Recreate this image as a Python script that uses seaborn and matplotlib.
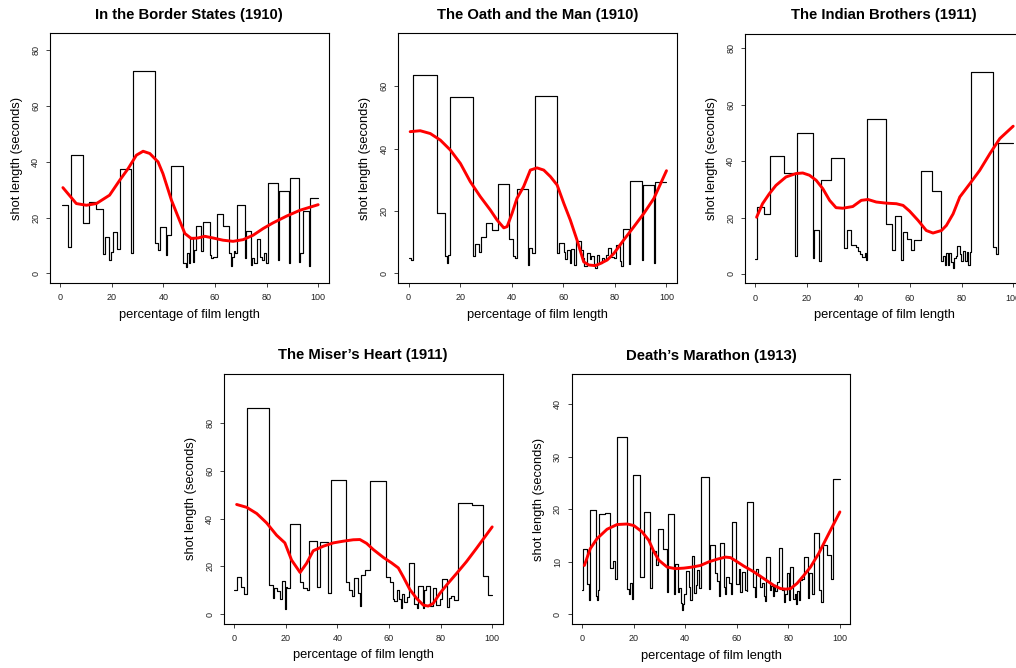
import numpy as np
import matplotlib
matplotlib.use("Agg")
import matplotlib.pyplot as plt
import seaborn as sns

# ---------------------------------------------------------------------------
# shot data: start of each shot (% of film length) and shot length (s)
# ---------------------------------------------------------------------------

border_x = [0.5, 3.0, 4.0, 8.9, 11.0, 14.0, 16.6, 17.3, 18.9, 19.5, 20.4, 22.1, 23.0,
            27.3, 28.2, 36.6, 37.9, 38.8, 40.9, 41.4, 43.1, 47.6, 48.6, 49.1, 49.9,
            50.2, 51.5, 51.9, 52.8, 54.7, 55.4, 58.0, 58.6, 59.3, 60.8, 63.1, 65.3,
            66.1, 66.5, 67.3, 67.8, 68.6, 71.6, 72.2, 74.0, 74.5, 75.2, 76.1, 77.4,
            78.4, 78.9, 79.7, 80.6, 84.5, 84.8, 88.5, 89.0, 92.6, 93.1, 94.2, 96.6, 96.9]
border_y = [24.5, 9.5, 42.4, 17.9, 25.4, 23.0, 6.8, 12.9, 5.0, 7.7, 15.0, 8.6, 37.3,
            7.5, 72.3, 11.0, 8.3, 16.5, 6.5, 13.7, 38.4, 3.6, 2.4, 7.2, 3.6,
            13.0, 4.2, 8.4, 17.0, 8.2, 18.4, 6.5, 5.7, 5.9, 21.4, 17.0, 7.2,
            2.7, 6.0, 8.0, 7.2, 24.6, 5.7, 15.1, 3.2, 5.4, 3.6, 12.3, 5.9,
            5.0, 7.2, 3.6, 32.4, 4.7, 29.5, 3.6, 34.3, 4.2, 7.2, 22.3, 2.5, 27.1]
border_smooth_x = [1.0, 6.2, 10.1, 14.0, 19.1, 23.0, 26.3, 29.5, 32.1, 34.7, 37.9, 39.8,
                   43.1, 45.7, 48.3, 50.8, 53.4, 56.0, 59.2, 63.1, 67.0, 70.9, 74.8,
                   78.7, 82.5, 87.7, 92.9, 100.0]
border_smooth_y = [30.7, 25.0, 24.4, 25.0, 28.0, 33.3, 37.5, 42.3, 43.7, 42.9, 39.9, 35.7,
                   26.2, 20.2, 14.3, 12.5, 12.7, 13.3, 12.7, 11.9, 11.5, 12.1, 13.7,
                   16.1, 18.1, 20.5, 22.6, 24.6]

oath_x = [0.0, 1.0, 1.6, 11.0, 14.0, 14.9, 15.3, 16.2, 24.8, 25.6, 27.2, 28.2, 30.0,
          32.3, 34.7, 38.8, 40.5, 41.4, 42.0, 46.2, 46.6, 47.9, 48.9, 57.6, 58.5,
          60.1, 60.8, 61.4, 62.5, 63.0, 64.3, 64.9, 66.8, 67.5, 68.1, 69.0, 70.2,
          70.8, 71.7, 72.3, 72.9, 74.0, 74.8, 75.6, 76.5, 77.3, 78.5, 79.5, 80.5,
          81.9, 82.5, 83.0, 85.5, 85.8, 90.5, 90.8, 95.3, 95.6]
oath_y = [4.8, 4.3, 63.5, 19.5, 5.6, 3.2, 5.9, 56.4, 5.6, 9.3, 6.9, 11.6, 16.3,
          13.9, 28.5, 10.9, 5.6, 5.1, 26.9, 2.7, 8.0, 6.4, 56.7, 6.4, 9.8,
          6.9, 4.6, 7.4, 3.2, 7.7, 2.6, 10.5, 7.4, 5.0, 2.5, 6.4, 4.5,
          5.6, 3.0, 1.8, 6.0, 3.5, 5.0, 4.2, 6.0, 8.2, 5.3, 4.8, 9.0,
          4.0, 2.5, 14.3, 3.0, 29.6, 4.2, 28.3, 3.2, 29.2]
oath_smooth_x = [0.6, 4.5, 8.4, 12.3, 16.2, 20.1, 23.9, 27.8, 31.7, 34.3, 36.9, 38.2,
                 40.1, 42.0, 44.6, 47.2, 49.8, 52.4, 55.0, 57.6, 60.2, 62.7, 65.3,
                 67.9, 69.9, 72.4, 74.4, 77.0, 79.6, 83.4, 87.3, 91.2, 95.1, 100.0]
oath_smooth_y = [45.4, 45.7, 44.8, 42.7, 39.5, 35.2, 29.4, 24.6, 20.3, 17.1, 14.6, 15.0,
                 19.2, 24.0, 27.8, 33.1, 33.8, 33.1, 31.0, 28.3, 22.4, 17.1, 10.7,
                 3.7, 2.7, 2.5, 3.2, 4.3, 6.4, 10.7, 14.9, 19.2, 24.0, 32.9]

indian_x = [0.0, 0.5, 3.2, 5.8, 11.0, 15.4, 16.1, 22.3, 22.9, 24.6, 25.3, 29.4, 34.3,
            35.5, 37.2, 38.9, 40.0, 40.7, 41.5, 42.4, 43.0, 43.4, 50.8, 53.0, 54.0,
            56.6, 57.1, 58.9, 60.5, 61.5, 64.4, 68.5, 72.2, 72.8, 73.4, 73.8, 74.7,
            75.1, 76.0, 76.7, 77.1, 78.0, 78.4, 79.3, 79.9, 80.6, 81.2, 81.9, 82.6,
            83.2, 83.8, 92.2, 93.3, 94.2]
indian_y = [5.3, 23.7, 21.2, 42.0, 35.7, 6.4, 50.0, 5.7, 15.6, 4.7, 33.2, 41.0, 9.2,
            15.6, 10.4, 9.5, 8.3, 6.9, 6.0, 7.4, 5.0, 55.1, 17.8, 8.5, 20.7,
            5.0, 15.0, 12.4, 8.5, 11.9, 36.5, 29.3, 4.7, 6.5, 3.0, 7.5, 3.0,
            7.5, 4.1, 2.0, 5.7, 6.5, 9.8, 6.9, 4.7, 8.3, 4.5, 7.9, 3.2,
            7.7, 71.7, 9.5, 7.1, 46.6]
indian_smooth_x = [0.5, 2.8, 5.4, 8.0, 11.9, 15.8, 18.4, 21.0, 23.6, 26.2, 28.8, 31.3,
                   33.9, 37.8, 41.1, 43.7, 46.9, 50.8, 54.7, 57.3, 59.8, 63.1, 66.3,
                   68.9, 72.2, 74.1, 76.7, 79.3, 83.2, 87.0, 91.0, 94.8, 100.0]
indian_smooth_y = [20.1, 24.9, 28.4, 31.4, 34.4, 35.6, 35.8, 35.0, 33.2, 30.2, 26.1, 23.5,
                   23.3, 23.9, 26.1, 26.4, 25.5, 25.1, 24.9, 24.3, 22.3, 19.0, 15.4,
                   14.5, 15.4, 17.2, 21.3, 27.3, 32.0, 36.7, 42.7, 48.0, 52.4]

miser_x = [0.0, 1.2, 2.5, 3.7, 4.8, 13.6, 14.9, 15.5, 16.7, 17.7, 18.3, 19.6, 20.0,
           20.5, 21.6, 25.5, 26.7, 28.0, 29.1, 32.2, 33.2, 36.4, 37.3, 43.2, 44.4,
           45.5, 46.3, 47.8, 48.7, 49.0, 50.6, 52.7, 58.7, 60.3, 61.4, 62.0, 63.2,
           63.8, 64.6, 65.1, 65.9, 66.8, 67.7, 69.8, 70.9, 71.4, 73.0, 73.5, 74.5,
           75.8, 77.1, 78.4, 79.7, 80.7, 82.3, 83.3, 84.2, 85.1, 86.8, 92.0, 96.5, 98.4]
miser_y = [10.3, 15.5, 11.5, 8.3, 86.6, 12.2, 6.9, 10.8, 9.8, 6.2, 14.0, 2.0, 11.2,
           10.8, 38.0, 13.6, 10.8, 10.0, 30.5, 11.2, 30.3, 8.7, 56.2, 13.6, 10.3,
           7.6, 15.1, 9.0, 3.4, 16.6, 18.7, 55.7, 15.4, 13.6, 6.4, 5.6, 10.3,
           6.3, 2.4, 8.4, 5.2, 7.3, 21.3, 4.1, 2.4, 11.7, 2.4, 10.0, 11.7,
           3.4, 10.8, 3.8, 6.2, 14.7, 3.1, 6.6, 7.6, 5.9, 46.6, 45.9, 16.2, 8.0]
miser_smooth_x = [0.9, 4.8, 8.7, 12.5, 16.4, 19.6, 22.2, 25.5, 28.0, 30.6, 34.5, 38.4,
                  42.2, 46.1, 48.7, 51.3, 53.9, 57.8, 61.0, 63.6, 65.5, 68.1, 70.7,
                  73.3, 75.2, 77.1, 79.7, 82.3, 86.2, 90.0, 93.9, 100.0]
miser_smooth_y = [46.0, 44.8, 42.2, 38.3, 33.1, 29.9, 22.7, 17.5, 21.3, 26.6, 28.5, 29.9,
                  30.6, 31.2, 31.3, 29.7, 27.1, 23.8, 21.5, 19.4, 15.7, 10.3, 6.6,
                  3.8, 3.4, 4.5, 8.7, 12.2, 17.1, 22.0, 27.6, 36.6]

death_x = [0.0, 0.5, 2.1, 2.7, 3.0, 5.3, 5.8, 6.3, 6.6, 8.8, 10.7, 12.0, 12.9, 13.7,
           17.5, 18.1, 18.8, 19.3, 19.7, 22.6, 24.2, 26.5, 27.0, 28.7, 29.5, 31.4,
           33.0, 33.5, 35.6, 36.1, 37.1, 37.6, 38.4, 38.8, 39.2, 39.7, 40.4, 41.4,
           42.0, 42.7, 43.6, 44.2, 44.6, 45.5, 46.2, 49.4, 49.8, 51.5, 52.4, 53.0,
           53.4, 55.0, 55.6, 56.0, 56.9, 57.6, 58.0, 59.9, 60.7, 61.4, 62.1, 63.1,
           63.8, 64.0, 66.4, 67.2, 67.5, 68.4, 69.2, 69.9, 70.5, 71.0, 71.4, 72.8,
           73.4, 74.0, 74.4, 75.0, 75.7, 76.3, 77.6, 78.3, 78.7, 79.3, 80.2, 80.6,
           81.9, 82.5, 83.0, 83.4, 84.2, 84.7, 85.4, 86.0, 87.7, 88.2, 89.3, 89.9,
           91.8, 92.8, 93.3, 95.1, 96.4, 97.2]
death_y = [4.7, 12.4, 5.8, 2.8, 19.8, 3.4, 2.8, 4.6, 19.1, 19.3, 8.8, 10.1, 6.8, 33.8,
           4.9, 3.8, 5.9, 3.0, 26.6, 7.2, 19.5, 5.0, 12.0, 9.3, 16.3, 12.5,
           4.3, 19.1, 3.9, 9.5, 4.3, 5.1, 2.2, 0.9, 2.0, 3.9, 8.3, 5.3,
           2.7, 11.1, 4.1, 5.5, 8.4, 5.1, 26.2, 4.9, 13.2, 7.8, 6.4, 3.4,
           13.6, 5.2, 3.9, 7.2, 6.0, 3.8, 17.6, 5.7, 8.7, 4.2, 8.1, 4.6,
           4.5, 21.4, 5.2, 3.3, 8.6, 7.4, 5.2, 5.9, 3.4, 2.5, 10.9, 4.7,
           5.4, 3.4, 5.5, 4.5, 6.2, 12.7, 4.6, 2.4, 3.9, 7.8, 2.8, 9.0,
           3.0, 3.8, 2.0, 4.5, 2.8, 6.5, 6.7, 10.9, 3.1, 7.9, 3.9, 15.5,
           4.7, 2.4, 13.2, 11.3, 6.7, 25.7]
death_smooth_x = [0.9, 3.2, 5.8, 9.7, 13.6, 17.5, 20.1, 23.3, 25.9, 27.8, 29.8, 33.0,
                  36.2, 39.5, 42.7, 45.9, 49.2, 52.4, 55.6, 57.6, 60.2, 62.7, 66.6,
                  70.5, 74.4, 77.0, 78.9, 80.9, 83.4, 86.0, 88.6, 91.8, 95.1, 97.7, 100.0]
death_smooth_y = [9.3, 12.5, 14.4, 16.2, 17.1, 17.2, 16.9, 15.7, 14.1, 12.0, 10.3, 9.0,
                  8.7, 8.8, 9.0, 9.3, 10.0, 10.5, 10.9, 10.8, 10.0, 9.2, 8.1,
                  6.8, 5.5, 4.9, 4.8, 4.9, 5.9, 7.4, 9.0, 11.6, 14.8, 17.3, 19.5]

titles = ["In the Border States (1910)", "The Oath and the Man (1910)",
          "The Indian Brothers (1911)", "The Miser\u2019s Heart (1911)",
          "Death\u2019s Marathon (1913)"]
x_ticks = [0, 20, 40, 60, 80, 100]

# ---------------------------------------------------------------------------
# layout (pixels in the 1016 x 668 canvas)
# ---------------------------------------------------------------------------

W, H = 1016, 668
BOX_W, BOX_H = 278.5, 249.5

panels = [
    (border_x, border_y, border_smooth_x, border_smooth_y, (50.0, 33.5), (-3.4, 85.8), [0, 20, 40, 60, 80]),
    (oath_x, oath_y, oath_smooth_x, oath_smooth_y, (398.3, 33.3), (-3.0, 76.9), [0, 20, 40, 60]),
    (indian_x, indian_y, indian_smooth_x, indian_smooth_y, (745.0, 34.0), (-3.4, 85.1), [0, 20, 40, 60, 80]),
    (miser_x, miser_y, miser_smooth_x, miser_smooth_y, (224.0, 374.0), (-3.9, 100.7), [0, 20, 40, 60, 80]),
    (death_x, death_y, death_smooth_x, death_smooth_y, (571.7, 374.3), (-1.8, 45.7), [0, 10, 20, 30, 40]),
]

sns.set_style("white")
plt.rcParams['font.family'] = ['Liberation Sans', 'DejaVu Sans']
plt.rcParams['text.color'] = 'black'
plt.rcParams['axes.labelcolor'] = 'black'

fig = plt.figure(figsize=(W / 100, H / 100), dpi=100)

for title, (sx, sy, mx, my, (left, top), ylim, yticks) in zip(titles, panels):
    ax = fig.add_axes([left / W, 1 - (top + BOX_H) / H, BOX_W / W, BOX_H / H])

    # step line: each shot is held until the next one starts
    xs = np.append(sx, 100.0)
    ys = np.append(sy, sy[-1])
    sns.lineplot(x=xs, y=ys, drawstyle='steps-post', color='black', lw=0.85,
                 estimator=None, sort=False, ax=ax)
    sns.lineplot(x=mx, y=my, color='#ff0000', lw=2.1,
                 estimator=None, sort=False, ax=ax)

    ax.set_xlim(-4, 104)
    ax.set_ylim(*ylim)
    ax.set_xticks(x_ticks)
    ax.set_yticks(yticks)
    ax.tick_params(bottom=True, left=True, direction='out', length=3, width=0.6,
                   labelsize=6.5, colors='#222222')
    ax.tick_params(axis='x', pad=4.5)
    ax.tick_params(axis='y', labelrotation=90, pad=4)
    for lab in ax.get_yticklabels():
        lab.set_va('center')

    for sp in ax.spines.values():
        sp.set_visible(True)
        sp.set_color('black')
        sp.set_linewidth(0.8)

    # fixed y keeps matplotlib from nudging individual titles
    ax.set_title(title, fontsize=10.7, fontweight='bold', y=1.0, pad=10.5)
    ax.set_xlabel('percentage of film length', fontsize=9.3, va='center')
    ax.set_ylabel('shot length (seconds)', fontsize=9.3, va='center')
    ax.xaxis.set_label_coords(0.5, -0.128)
    ax.yaxis.set_label_coords(-0.118, 0.5)

fig.savefig('out.png', dpi=100)
